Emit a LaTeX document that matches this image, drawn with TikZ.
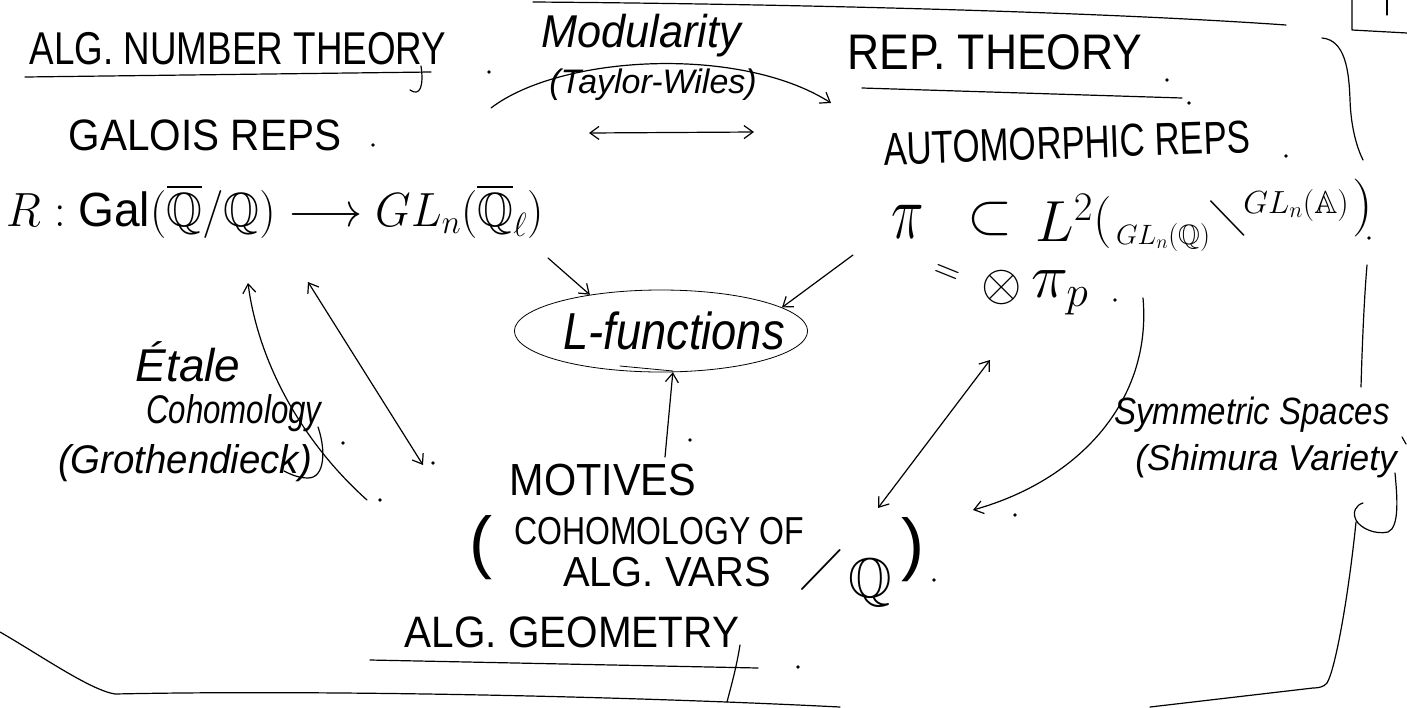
\RequirePackage{fix-cm}
\documentclass[tikz,border=0pt]{standalone}
\usepackage{fontspec}
\setmainfont{Liberation Sans}
\usepackage{amssymb}
\usepackage{graphicx}
\usetikzlibrary{arrows.meta,shapes.geometric}
\newcommand\hw[3]{{\fontsize{#1}{#1}\selectfont\scalebox{#2}[1]{#3}}}
\newcommand\hwi[3]{{\fontsize{#1}{#1}\selectfont\itshape\scalebox{#2}[1]{#3}}}
\newcommand\mth[3]{{\fontsize{#1}{#1}\selectfont\scalebox{#2}[1]{$#3$}}}
\begin{document}
\begin{tikzpicture}[x=1pt,y=-1pt,line width=1.2pt,line cap=round,line join=round,
  txt/.style={inner sep=0pt,outer sep=0pt,anchor=center},
  arr/.style={-{Straight Barb[length=9pt,width=13pt]}},
  arrb/.style={{Straight Barb[length=9pt,width=13pt]}-{Straight Barb[length=9pt,width=13pt]}},
  thinline/.style={line width=0.8pt}]
\fill[white] (0,0) rectangle (1407,707);
\useasboundingbox (0,0) rectangle (1407,707);

% ---------- texts ----------
\node[txt] (ant) at (238,49) {\hw{46}{0.80}{ALG. NUMBER THEORY}};
\node[txt] (mod) at (641,36) {\hwi{46}{0.94}{Modularity}};
\node[txt] (tw) at (653,85) {\hwi{34}{1.0}{(Taylor-Wiles)}};
\node[txt] (rep) at (995,52) {\hw{50}{0.89}{REP. THEORY}};
\node[txt] (gal) at (205,135) {\hw{44}{0.92}{GALOIS REPS}};
\node[txt,rotate=2] (aut) at (1067,143) {\hw{46}{0.76}{AUTOMORPHIC REPS}};
\node[txt] (rl) at (275,211) {\mth{48}{0.96}{R : \mathrm{Gal}(\overline{\mathbb{Q}}/\mathbb{Q}) \longrightarrow GL_n(\overline{\mathbb{Q}}_\ell)}};

\node[txt] (pi) at (908,222) {\fontsize{55}{55}\selectfont\scalebox{1}[1.4]{$\pi$}};
\node[txt] (sub) at (990,219) {\mth{58}{1}{\subset}};
\node[txt] (l2) at (1064,218) {\mth{58}{1}{L^{2}}};
\node[txt] (lpar) at (1103,222) {\mth{52}{1}{(}};
\node[txt] (glq) at (1163,237) {\mth{28}{1}{GL_n(\mathbb{Q})}};
\node[txt] (bsl) at (1228,218) {\mth{40}{1}{\diagdown}};
\node[txt] (gla) at (1296,205) {\mth{32}{1}{GL_n(\mathbb{A})}};
\node[txt] (rpar) at (1363,208) {\mth{58}{1}{)}};

\node[txt,rotate=-22] (eq) at (946,274) {\mth{36}{1}{=}};
\node[txt] (ot) at (1002,287) {\mth{52}{1}{\otimes}};
\node[txt] (pip) at (1060,293) {\fontsize{50}{50}\selectfont\scalebox{1.25}[1.25]{$\pi_p$}};

\node[ellipse,draw,thinline,minimum width=288pt,minimum height=82pt,inner xsep=-20pt,inner ysep=0pt] (lf) at (661,331) {\hspace*{26pt}\hwi{52}{0.87}{L-functions}};

\node[txt] (et) at (188,362) {\hwi{46}{1.0}{Étale}};
\node[txt] (coh) at (234,413) {\hwi{40}{0.78}{Cohomology}};
\node[txt] (gro) at (185,463) {\hwi{40}{0.96}{(Grothendieck)}};

\node[txt] (mot) at (603,480) {\hw{45}{0.92}{MOTIVES}};
\node[txt] (lpm) at (481,548) {\hw{69}{1}{(}};
\node[txt] (cohm) at (659,531) {\hw{39}{0.82}{COHOMOLOGY OF}};
\node[txt] (avr) at (667,572) {\hw{42}{0.95}{ALG. VARS}};
\node[txt] (sl) at (822,570) {\mth{46}{1}{\diagup}};
\node[txt] (qq) at (870,583) {\mth{56}{1}{\mathbb{Q}}};
\node[txt] (rpm) at (913,550) {\hw{69}{1}{)}};

\node[txt] (geo) at (572,632) {\hw{44}{0.92}{ALG. GEOMETRY}};
\node[txt] (sym) at (1252,415) {\hwi{38}{0.87}{Symmetric Spaces}};
\node[txt] (shi) at (1266,461) {\hwi{36}{0.98}{(Shimura Variety}};

% ---------- frame strokes ----------
\draw (533,2) .. controls (800,4) and (1100,12) .. (1286,25);
\draw (1352,0) -- (1352,30) -- (1407,33);
\draw (1387,0) -- (1387,15);
\draw (1322,38) .. controls (1345,40) and (1349,70) .. (1350,100) .. controls (1351,130) and (1358,150) .. (1363,160);
\draw (1367,265) .. controls (1364,300) and (1362,350) .. (1361,387);
\draw (1402,437) -- (1406,444);
\draw (1395,473) .. controls (1397,495) and (1400,527) .. (1388,532) .. controls (1375,535) and (1360,528) .. (1356,520) .. controls (1352,512) and (1356,505) .. (1363,503);
\draw (1356,522) .. controls (1348,600) and (1335,670) .. (1327,683) .. controls (1324,687) and (1318,688) .. (1313,688) -- (1150,707);
\draw (0,632) .. controls (40,655) and (90,690) .. (115,694) .. controls (300,690) and (600,695) .. (840,707);

% underlines and tails
\draw (25,77) -- (431,72);
\draw (421,66) .. controls (424,86) and (420,97) .. (410,90);
\draw (862,88) -- (1182,98);
\draw (370,660) -- (758,668);
\draw (740,645) .. controls (736,670) and (730,690) .. (727,702);
\draw[thinline] (620,366) -- (673,371);
\draw (318,427) .. controls (326,450) and (325,478) .. (308,478) .. controls (298,478) and (290,474) .. (284,471);

% ---------- connectors ----------
\coordinate (mA) at (491,108); \coordinate (mB) at (831,103);
\draw[arr] (mA) .. controls (560,55) and (740,45) .. (mB);
\coordinate (dA) at (589,133); \coordinate (dB) at (754,132);
\draw[arrb] (dA) -- (dB);
\coordinate (fA) at (548,258); \draw[arr] (fA) -- (lf.153);
\coordinate (fB) at (853,255); \draw[arr] (fB) -- (lf.11);
\coordinate (uA) at (665,457); \draw[arr] (uA) -- (lf.286);
\coordinate (eA) at (367,500); \coordinate (eB) at (248,283);
\draw[arr] (eA) .. controls (300,440) and (258,360) .. (eB);
\coordinate (gA) at (308,282); \coordinate (gB) at (423,465);
\draw[arrb] (gA) -- (gB);
\coordinate (rA) at (990,360); \coordinate (rB) at (878,508);
\draw[arrb] (rA) -- (rB);
\coordinate (sA) at (1143,298); \coordinate (sB) at (973,510);
\draw[arr] (sA) .. controls (1152,400) and (1080,480) .. (sB);

% ---------- dots ----------
\foreach \p in {(489,72),(1167,80),(1189,103),(373,145),(1286,156),(1369,238),(1115,300),(690,440),(343,443),(433,463),(380,500),(1015,515),(934,580),(798,667)}
  \fill \p circle (1.8pt);
\end{tikzpicture}
\end{document}
